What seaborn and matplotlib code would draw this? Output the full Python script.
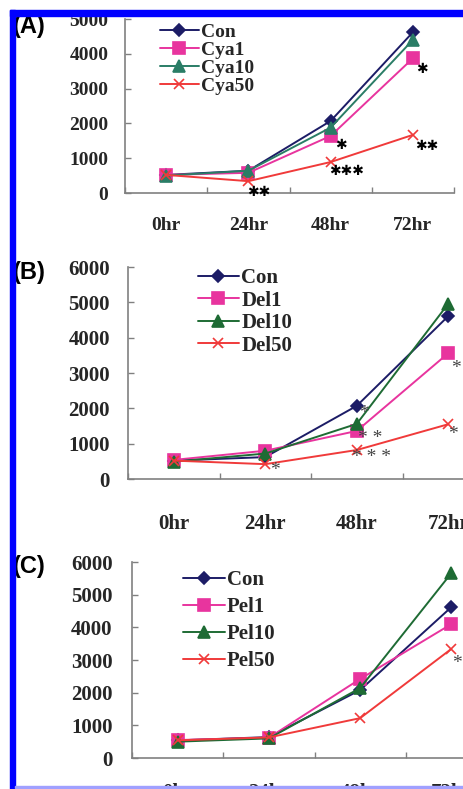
import matplotlib
matplotlib.use("Agg")
import matplotlib.pyplot as plt
from matplotlib.patches import Rectangle
import seaborn as sns

# data
hours = [0, 24, 48, 72]
tick_labels = ["0hr", "24hr", "48hr", "72hr"]

a_names = ["Con", "Cya1", "Cya10", "Cya50"]
a_con = [520, 640, 2070, 4620]
a_cya1 = [520, 580, 1640, 3870]
a_cya10 = [500, 640, 1880, 4400]
a_cya50 = [520, 340, 890, 1670]

b_names = ["Con", "Del1", "Del10", "Del50"]
b_con = [520, 620, 2070, 4610]
b_del1 = [540, 800, 1360, 3560]
b_del10 = [490, 720, 1560, 4960]
b_del50 = [520, 420, 820, 1550]

c_names = ["Con", "Pel1", "Pel10", "Pel50"]
c_con = [540, 640, 2080, 4620]
c_pel1 = [550, 620, 2420, 4100]
c_pel10 = [500, 600, 2140, 5660]
c_pel50 = [540, 630, 1220, 3340]

# significance marks (label, hours, value)
a_stars = [("✱", 74.5, 3560), ("✱", 51, 1380), ("✱✱✱", 52.5, 620),
           ("✱✱", 76, 1350), ("✱✱", 27, 30)]
b_stars = [("*", 50, 1850), ("* *", 51.5, 1150), ("* * *", 52, 600),
           ("*", 26.5, 230), ("*", 74, 3130), ("* *", 75.5, 1250)]
c_stars = [("*", 73.5, 2900)]

W, H = 463, 789
serif = ["Liberation Serif", "DejaVu Serif"]

sns.set_theme(style="white")
plt.rcParams["font.family"] = serif

fig = plt.figure(figsize=(W / 100, H / 100), dpi=100)
fig.patch.set_facecolor("white")


def px_axes(left, bottom, width, height):
    return fig.add_axes([left / W, 1 - bottom / H, width / W, height / H])


def panel(ax, series, names, colors, ymax, fs_tick, fs_leg, xpad, ypad,
          leg_anchor, leg_space, stars, star_style):
    markers = ["D", "s", "^", "x"]
    sizes = [6.5, 9, 8.5, 7]
    for vals, name, col, mk, ms in zip(series, names, colors, markers, sizes):
        sns.lineplot(x=hours, y=vals, ax=ax, color=col, marker=mk,
                     markersize=ms, markeredgecolor=col, markeredgewidth=1.2,
                     linewidth=1.4, label=name)
    ax.set_xlim(-12, 84)
    ax.set_ylim(0, ymax)
    ax.set_yticks(range(0, ymax + 1, 1000))
    ax.set_xticks(hours)
    ax.set_xticklabels(tick_labels)
    ax.set_xticks([-12, 12, 36, 60, 84], minor=True)
    ax.tick_params(axis="x", which="major", length=0, pad=xpad,
                   labelsize=fs_tick)
    ax.tick_params(axis="x", which="minor", direction="in", length=4,
                   width=1, color="#808080", bottom=True)
    ax.tick_params(axis="y", direction="in", length=4, width=1,
                   color="#808080", pad=ypad, labelsize=fs_tick, left=True)
    for lab in ax.get_xticklabels() + ax.get_yticklabels():
        lab.set_fontweight("bold")
        lab.set_family(serif)
    for s in ["top", "right"]:
        ax.spines[s].set_visible(False)
    for s in ["left", "bottom"]:
        ax.spines[s].set_color("#808080")
        ax.spines[s].set_linewidth(1.2)
    ax.set_xlabel("")
    ax.set_ylabel("")
    ax.grid(False)
    ax.legend(loc="upper left", bbox_to_anchor=leg_anchor, frameon=False,
              borderpad=0, borderaxespad=0, handlelength=2.0,
              handletextpad=0.1, labelspacing=leg_space,
              prop={"family": serif, "weight": "bold", "size": fs_leg})
    for txt, x, y in stars:
        ax.text(x, y, txt, ha="center", va="center", **star_style)


heavy = dict(family=["DejaVu Sans"], fontsize=10, color="black")
light = dict(family=serif, fontsize=14, color="#444444")

axA = px_axes(125, 193, 329, 174)
panel(axA, [a_con, a_cya1, a_cya10, a_cya50], a_names,
      ["#1c1c66", "#e8349e", "#2a7d66", "#f03a3a"], 5000, 14, 14,
      17, 12, (0.106, 0.975), 0.02, a_stars, heavy)

axB = px_axes(128, 479, 366, 212)
panel(axB, [b_con, b_del1, b_del10, b_del50], b_names,
      ["#1c1c66", "#e8349e", "#1e6b34", "#f03a3a"], 6000, 15, 15,
      25, 13, (0.19, 0.995), 0.12, b_stars, light)

axC = px_axes(132, 758, 365, 196)
panel(axC, [c_con, c_pel1, c_pel10, c_pel50], c_names,
      ["#1c1c66", "#e8349e", "#1e6b34", "#f03a3a"], 6000, 15, 15,
      18, 14, (0.14, 0.96), 0.34, c_stars, light)

# panel letters
for lab, top in [("(A)", 15), ("(B)", 261), ("(C)", 555)]:
    fig.text(13 / W, 1 - top / H, lab, ha="left", va="top",
             family=["Liberation Sans", "DejaVu Sans"], fontweight="bold",
             fontsize=17, color="black")

# blue frame
fig.patches.append(Rectangle((10 / W, 1 - 16 / H), (W - 10) / W, 6 / H,
                             transform=fig.transFigure, color="#0000ff",
                             zorder=10))
fig.patches.append(Rectangle((10 / W, 0), 5 / W, 1 - 10 / H,
                             transform=fig.transFigure, color="#0000ff",
                             zorder=10))
fig.patches.append(Rectangle((15 / W, 1 / H), (W - 15) / W, 2 / H,
                             transform=fig.transFigure, color="#a0a0ff",
                             zorder=10))

fig.savefig("out.png", dpi=100)
